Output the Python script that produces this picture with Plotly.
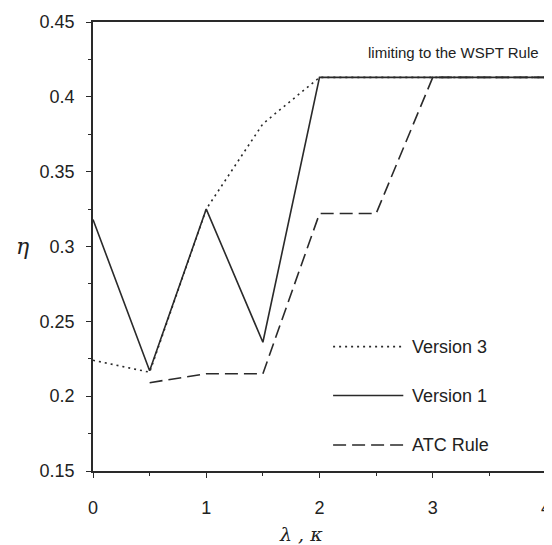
import plotly.graph_objects as go

lam = [0, 0.5, 1, 1.5, 2, 2.5, 3, 3.5, 4]
version3 = [0.224, 0.216, 0.325, 0.382, 0.413, 0.413, 0.413, 0.413, 0.413]
version1 = [0.318, 0.217, 0.325, 0.236, 0.413, 0.413, 0.413, 0.413, 0.413]
atc_rule = [None, 0.209, 0.215, 0.215, 0.322, 0.322, 0.413, 0.413, 0.413]

series_names = ["Version 3", "Version 1", "ATC Rule"]
x_ticks = [0, 1, 2, 3, 4]
y_ticks = [0.15, 0.2, 0.25, 0.3, 0.35, 0.4, 0.45]

LINE = "#2a2a2a"
TEXT = "#222222"
FONT = "Liberation Sans"
dashes = ["2px,4px", "solid", "13px,6px"]

fig = go.Figure()
for name, ys, d in zip(series_names, [version3, version1, atc_rule], dashes):
    fig.add_trace(go.Scatter(x=lam, y=ys, mode="lines", name=name,
                             line=dict(color=LINE, width=1.6, dash=d),
                             showlegend=False, connectgaps=False))

axis_common = dict(showline=True, mirror=True, linecolor=LINE, linewidth=1.8,
                   showgrid=False, zeroline=False, ticks="outside", ticklen=5,
                   tickcolor=LINE, tickwidth=1.3, automargin=False,
                   tickfont=dict(family=FONT, size=18, color=TEXT))
fig.update_xaxes(range=[0, 4], tickvals=x_ticks, ticklabelstandoff=14,
                 minor=dict(ticks="outside", ticklen=3, dtick=0.5, tickcolor=LINE),
                 **axis_common)
fig.update_yaxes(range=[0.15, 0.45], tickvals=y_ticks, ticktext=[f"{v:g}" for v in y_ticks],
                 ticklabelstandoff=8,
                 minor=dict(ticks="outside", ticklen=3, dtick=0.025, tickcolor=LINE),
                 **axis_common)

# legend drawn manually with long line samples
for name, d, yy in zip(series_names, dashes, [0.277, 0.168, 0.058]):
    fig.add_shape(type="line", xref="paper", yref="paper", x0=0.53, x1=0.685, y0=yy, y1=yy,
                  line=dict(color=LINE, width=1.6, dash=d))
    fig.add_annotation(xref="paper", yref="paper", x=0.7, y=yy, text=name, showarrow=False,
                       xanchor="left", yanchor="middle",
                       font=dict(family=FONT, size=18, color=TEXT))

fig.add_annotation(xref="paper", yref="paper", x=0.99, y=0.933, text="limiting to the WSPT Rule",
                   showarrow=False, xanchor="right", yanchor="middle",
                   font=dict(family=FONT, size=15, color=TEXT))
fig.add_annotation(xref="paper", yref="paper", x=-0.155, y=0.5, text="<i>η</i>",
                   showarrow=False, xanchor="center", yanchor="middle",
                   font=dict(family="DejaVu Serif", size=22, color=TEXT))
fig.add_annotation(xref="paper", yref="paper", x=0.46, y=-0.112, text="<i>λ , κ</i>",
                   showarrow=False, xanchor="center", yanchor="top",
                   font=dict(family="DejaVu Serif", size=19, color=TEXT))

# page body has an 8px default margin: offset margins so the plot lands where the reference has it
fig.update_layout(width=552, height=545, margin=dict(l=85, r=14, t=14, b=82),
                  plot_bgcolor="white", paper_bgcolor="white", showlegend=False)
fig.write_html("out.html")
